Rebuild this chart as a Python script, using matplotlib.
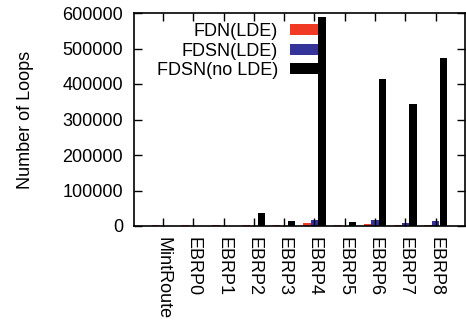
import numpy as np
import matplotlib
matplotlib.use("Agg")
import matplotlib.pyplot as plt
from matplotlib.patches import Rectangle

plt.rcParams["font.family"] = ["Liberation Sans", "DejaVu Sans"]
plt.rcParams["font.size"] = 13

categories = ["MintRoute", "EBRP0", "EBRP1", "EBRP2", "EBRP3",
              "EBRP4", "EBRP5", "EBRP6", "EBRP7", "EBRP8"]
fdn_lde = [1500, 1500, 1500, 1500, 1500, 9000, 1500, 6500, 2000, 2000]
fdsn_lde = [1000, 1000, 1000, 1000, 1000, 17000, 1000, 17000, 9000, 13000]
fdsn_no_lde = [500, 500, 500, 37500, 14000, 589000, 11000, 415000, 345000, 472000]
series_names = ["FDN(LDE)", "FDSN(LDE)", "FDSN(no LDE)"]
colours = ["#f03a24", "#33339a", "#000000"]

fig = plt.figure(figsize=(4.66, 3.22), dpi=100)
ax = fig.add_axes([134 / 466, 1 - 226 / 322, 331 / 466, 213 / 322])

x = np.arange(len(categories))
width = 0.24
for i, (vals, col) in enumerate(zip([fdn_lde, fdsn_lde, fdsn_no_lde], colours)):
    ax.bar(x + (i - 1) * 0.25, vals, width, color=col, linewidth=0)

ax.set_xlim(-0.96, 9.97)
ax.set_ylim(0, 600000)
ax.set_yticks(np.arange(0, 600001, 100000))
ax.set_xticks(x)
ax.set_xticklabels(categories, rotation=-90, va="top", ha="center")
ax.tick_params(direction="in", length=6, width=1, top=True, right=True, pad=8)
ax.tick_params(axis="y", pad=8)
for sp in ax.spines.values():
    sp.set_linewidth(1.2)
ax.set_ylabel("Number of Loops", labelpad=20)

handles = [Rectangle((0, 0), 1, 1, color=c, linewidth=0) for c in colours]
ax.legend(handles, series_names, loc="upper right", bbox_to_anchor=(0.556, 0.953),
          frameon=False, markerfirst=False, borderpad=0, borderaxespad=0,
          handlelength=1.55, handleheight=0.55, handletextpad=0.66, labelspacing=0.14)

fig.savefig("out.png", dpi=100)
